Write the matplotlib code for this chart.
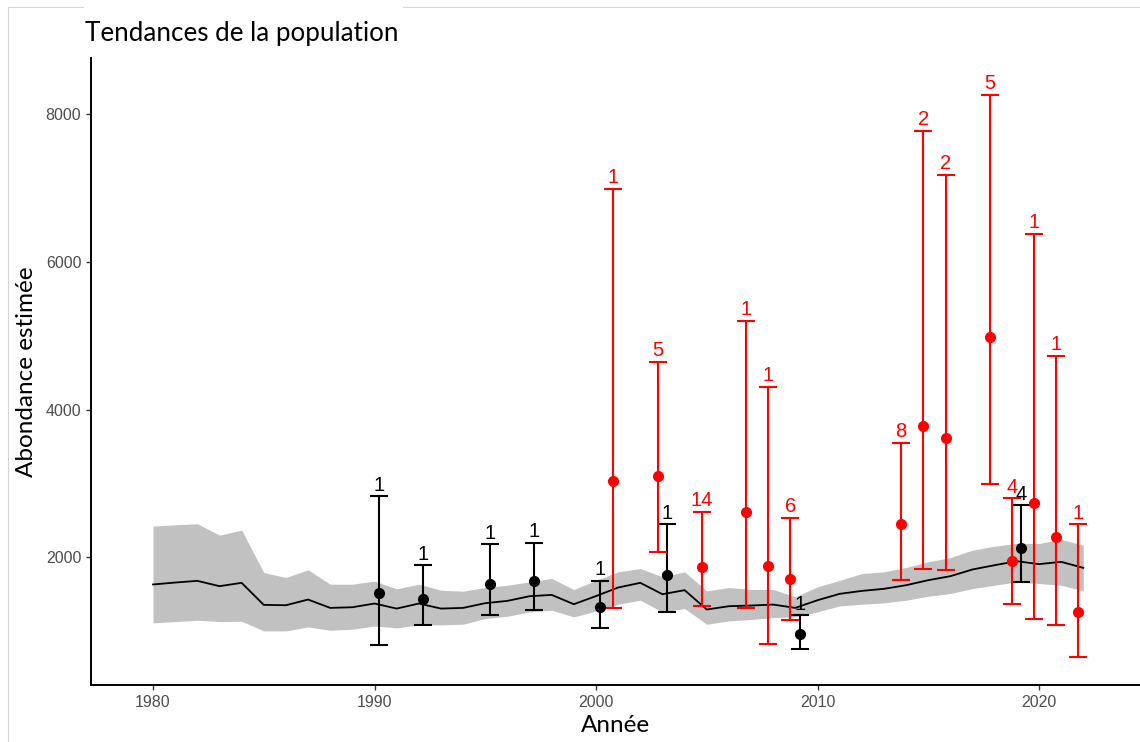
import matplotlib.pyplot as plt
from matplotlib.lines import Line2D

# modelled trend, one value per year, with its band
years = list(range(1980, 2023))
trend = [1635, 1661, 1684, 1612, 1657, 1359, 1354, 1431, 1318, 1327,
         1377, 1309, 1377, 1309, 1318, 1382, 1413, 1476, 1494, 1368,
         1478, 1594, 1657, 1503, 1558, 1296, 1341, 1350, 1363, 1318,
         1422, 1508, 1548, 1576, 1625, 1693, 1747, 1838, 1896, 1950,
         1910, 1941, 1860]
trend_lo = [1115, 1133, 1151, 1133, 1137, 1007, 1007, 1061, 1016, 1029,
            1074, 1047, 1088, 1088, 1097, 1174, 1205, 1264, 1287, 1196,
            1275, 1368, 1422, 1264, 1309, 1097, 1142, 1160, 1188, 1196,
            1264, 1345, 1368, 1386, 1422, 1476, 1512, 1580, 1625, 1670,
            1648, 1625, 1548]
trend_hi = [2424, 2442, 2456, 2303, 2370, 1797, 1729, 1833, 1639, 1639,
            1680, 1576, 1639, 1558, 1544, 1594, 1625, 1670, 1716, 1567,
            1690, 1806, 1851, 1738, 1806, 1548, 1594, 1567, 1567, 1467,
            1603, 1690, 1783, 1806, 1865, 1941, 2000, 2099, 2154, 2190,
            2190, 2244, 2167]

# survey estimates (black series)
blk_x = [1990.2, 1992.2, 1995.2, 1997.2, 2000.2, 2003.2, 2009.2, 2019.2]
blk_y = [1521, 1436, 1635, 1684, 1332, 1761, 962, 2122]
blk_lo = [822, 1084, 1223, 1296, 1047, 1264, 758, 1662]
blk_hi = [2827, 1896, 2181, 2198, 1684, 2452, 1219, 2709]
blk_n = [1, 1, 1, 1, 1, 1, 1, 4]

# survey estimates (red series)
red_x = [2000.78, 2002.78, 2004.78, 2006.78, 2007.78, 2008.78, 2013.78,
         2014.78, 2015.78, 2017.78, 2018.78, 2019.78, 2020.78, 2021.78]
red_y = [3034, 3102, 1869, 2614, 1887, 1711, 2452, 3779, 3616, 4984,
         1959, 2732, 2271, 1260]
red_lo = [1323, 2077, 1341, 1318, 835, 1160, 1697, 1842, 1824, 2998,
          1373, 1174, 1088, 650]
red_hi = [6989, 4646, 2619, 5201, 4307, 2537, 3549, 7775, 7179, 8262,
          2800, 6380, 4727, 2447]
red_n = [1, 5, 14, 1, 1, 6, 8, 2, 2, 5, 4, 1, 1, 1]

W, H = 1140, 742
fig = plt.figure(figsize=(W / 100, H / 100), dpi=100)
ax = fig.add_axes([91 / W, 1 - 685 / H, 1 - 91 / W, (685 - 58) / H])

ax.fill_between(years, trend_lo, trend_hi, color='#c1c1c1', lw=0, zorder=1)
ax.plot(years, trend, color='black', lw=1.3, zorder=2)

num_font = 'Liberation Sans'
for xs, ys, lo, hi, ns, col in [(blk_x, blk_y, blk_lo, blk_hi, blk_n, 'black'),
                                (red_x, red_y, red_lo, red_hi, red_n, 'red')]:
    err = [[y - l for y, l in zip(ys, lo)], [h - y for y, h in zip(ys, hi)]]
    ax.errorbar(xs, ys, yerr=err, fmt='o', color=col, ms=7, elinewidth=1.5,
                capsize=6.8, capthick=1.5, zorder=3)
    for x, h, n in zip(xs, hi, ns):
        ax.annotate(str(n), (x, h), xytext=(0, 4), textcoords='offset points',
                    ha='center', va='baseline', color=col, fontsize=14.5,
                    family=num_font, zorder=4)

ax.set_xlim(1977.2, 2024.56)
ax.set_ylim(275, 8757)
ax.set_xticks([1980, 1990, 2000, 2010, 2020])
ax.set_yticks([2000, 4000, 6000, 8000])
ax.tick_params(colors='#333333', labelcolor='#4d4d4d', length=3.5, width=1,
               labelsize=11.5)
for lab in ax.get_xticklabels() + ax.get_yticklabels():
    lab.set_family(num_font)
for side in ['top', 'right']:
    ax.spines[side].set_visible(False)
for side in ['left', 'bottom']:
    ax.spines[side].set_linewidth(1.4)
    ax.spines[side].set_color('black')

title_font = 'Lato'
ax.set_xlabel('Année', family=title_font, fontsize=17.5, labelpad=4)
ax.set_ylabel('Abondance estimée', family=title_font, fontsize=17.5, labelpad=6)
fig.text(85 / W, 1 - 33 / H, 'Tendances de la population', family=title_font,
         fontsize=18.7, va='center', ha='left')

# thin page frame around the panel
frame = '#d6d6d6'
fig.add_artist(Line2D([8 / W, 83 / W], [1 - 7 / H] * 2, color=frame, lw=0.8,
                      transform=fig.transFigure))
fig.add_artist(Line2D([403 / W, 1], [1 - 7 / H] * 2, color=frame, lw=0.8,
                      transform=fig.transFigure))
fig.add_artist(Line2D([8 / W] * 2, [0, 1 - 7 / H], color=frame, lw=0.8,
                      transform=fig.transFigure))

fig.savefig('out.png', dpi=100)
